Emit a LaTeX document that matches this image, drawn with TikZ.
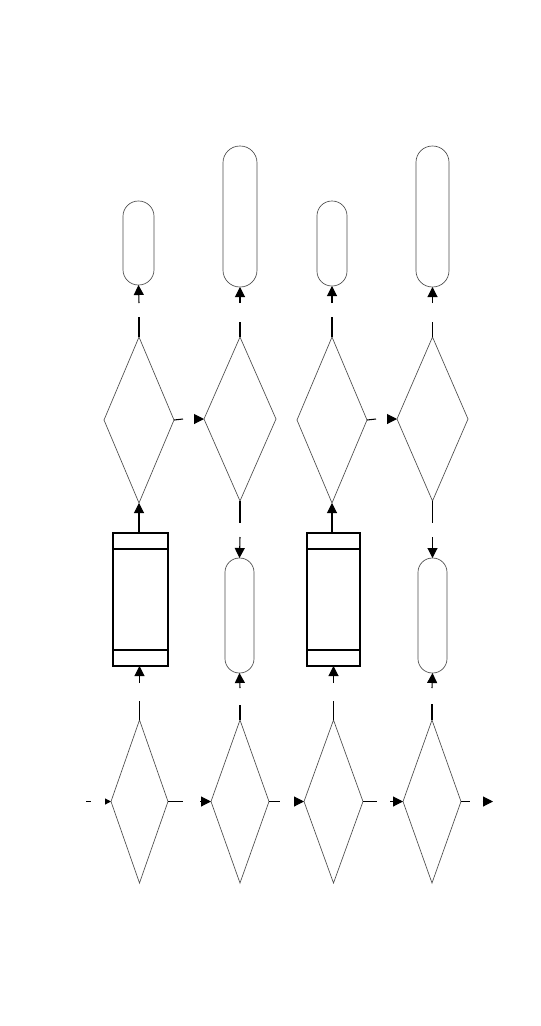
\documentclass[tikz,border=0pt]{standalone}
\usetikzlibrary{shapes.geometric,arrows.meta,calc}
\begin{document}
\begin{tikzpicture}[x=0.75pt,y=-0.75pt,
  dia/.style 2 args={diamond,draw=black!70,line width=0.5pt,inner sep=0pt,outer sep=0pt,
     minimum width=#1*0.75pt,minimum height=#2*0.75pt},
  pill/.style 2 args={rectangle,draw=black!70,line width=0.5pt,inner sep=0pt,outer sep=0pt,
     rounded corners=#1*0.37pt,minimum width=#1*0.75pt,minimum height=#2*0.75pt},
  proc/.style 2 args={rectangle,draw=black,line width=0.8pt,inner sep=0pt,outer sep=0pt,
     minimum width=#1*0.75pt,minimum height=#2*0.75pt},
  conn/.style={draw=black,line width=0.8pt},
  arr/.style={conn,-{Triangle[length=7.5pt,width=7.5pt]}},
  sarr/.style={conn,-{Triangle[length=4.5pt,width=4.5pt]}}]
\useasboundingbox (0,0) rectangle (540,1026);

% upper diamonds
\node[dia={70}{166}] (D1) at (139,420) {};
\node[dia={72}{164}] (D2) at (240,419) {};
\node[dia={70}{166}] (D3) at (332,420) {};
\node[dia={71}{164}] (D4) at (432.5,419) {};
% lower diamonds
\node[dia={57}{163}] (DA) at (139.5,801.5) {};
\node[dia={58}{163}] (DB) at (240,801.5) {};
\node[dia={59}{163}] (DC) at (333.5,801.5) {};
\node[dia={58}{163}] (DD) at (432,801.5) {};
% top terminals
\node[pill={31}{84}] (T1) at (138.5,243) {};
\node[pill={34}{141}] (T2) at (240,216.5) {};
\node[pill={30}{85}] (T3) at (332,243.5) {};
\node[pill={33}{141}] (T4) at (432.5,216.5) {};
% lower terminals
\node[pill={29}{115}] (P2) at (239.5,615.5) {};
\node[pill={29}{115}] (P4) at (432.5,615.5) {};
% process boxes
\node[proc={55}{133}] (B1) at (140.5,599.5) {};
\node[proc={53}{133}] (B3) at (333.5,599.5) {};
\foreach \b in {B1,B3}{
  \draw[conn] ($(\b.north west)+(0,16)$) -- ($(\b.north east)+(0,16)$);
  \draw[conn] ($(\b.south west)+(0,-16)$) -- ($(\b.south east)+(0,-16)$);
}

% gap coordinates
\coordinate (u1) at (139,317); \coordinate (v1) at (139,303);
\coordinate (u2) at (240,322); \coordinate (v2) at (240,303);
\coordinate (u3) at (332,317); \coordinate (v3) at (332,303);
\coordinate (u4) at (432.5,322); \coordinate (v4) at (432.5,303);
\coordinate (w2) at (240,523); \coordinate (x2) at (240,537);
\coordinate (w4) at (432.5,523); \coordinate (x4) at (432.5,537);
\coordinate (la) at (139.5,701); \coordinate (ma) at (139.5,683);
\coordinate (lb) at (240,705); \coordinate (mb) at (240,688);
\coordinate (lc) at (333.5,701); \coordinate (mc) at (333.5,683);
\coordinate (ld) at (432,704); \coordinate (md) at (432,688);
\coordinate (h1) at (183,419); \coordinate (k1) at (196,419);
\coordinate (h3) at (376,419); \coordinate (k3) at (389,419);
\coordinate (in0) at (86,801.5); \coordinate (in1) at (91,801.5); \coordinate (in2) at (105,801.5);
\coordinate (ha) at (183,801.5); \coordinate (ka) at (200,801.5);
\coordinate (hb) at (280,801.5); \coordinate (kb) at (294,801.5);
\coordinate (hc) at (377,801.5); \coordinate (kc) at (390,801.5);
\coordinate (hd) at (470,801.5); \coordinate (kd) at (482.5,801.5); \coordinate (out) at (493,801.5);

% upper vertical connectors
\draw[conn] (D1.north) -- (u1); \draw[arr] (v1) -- (T1.south);
\draw[conn] (D2.north) -- (u2); \draw[arr] (v2) -- (T2.south);
\draw[conn] (D3.north) -- (u3); \draw[arr] (v3) -- (T3.south);
\draw[conn] (D4.north) -- (u4); \draw[arr] (v4) -- (T4.south);
\draw[arr] (B1.north -| D1.south) -- (D1.south);
\draw[arr] (B3.north -| D3.south) -- (D3.south);
\draw[conn] (D2.south) -- (w2); \draw[arr] (x2) -- (P2.north);
\draw[conn] (D4.south) -- (w4); \draw[arr] (x4) -- (P4.north);
% lower vertical connectors
\draw[conn] (DA.north) -- (la); \draw[arr] (ma) -- (B1.south -| DA.north);
\draw[conn] (DB.north) -- (lb); \draw[arr] (mb) -- (P2.south);
\draw[conn] (DC.north) -- (lc); \draw[arr] (mc) -- (B3.south);
\draw[conn] (DD.north) -- (ld); \draw[arr] (md) -- (P4.south);
% horizontal connectors
\draw[conn] (D1.east) -- (h1); \draw[arr] (k1) -- (D2.west);
\draw[conn] (D3.east) -- (h3); \draw[arr] (k3) -- (D4.west);
\draw[conn] (in0) -- (in1); \draw[sarr] (in2) -- (DA.west);
\draw[conn] (DA.east) -- (ha); \draw[arr] (ka) -- (DB.west);
\draw[conn] (DB.east) -- (hb); \draw[arr] (kb) -- (DC.west);
\draw[conn] (DC.east) -- (hc); \draw[arr] (kc) -- (DD.west);
\draw[conn] (DD.east) -- (hd); \draw[arr] (kd) -- (out);
\end{tikzpicture}
\end{document}
